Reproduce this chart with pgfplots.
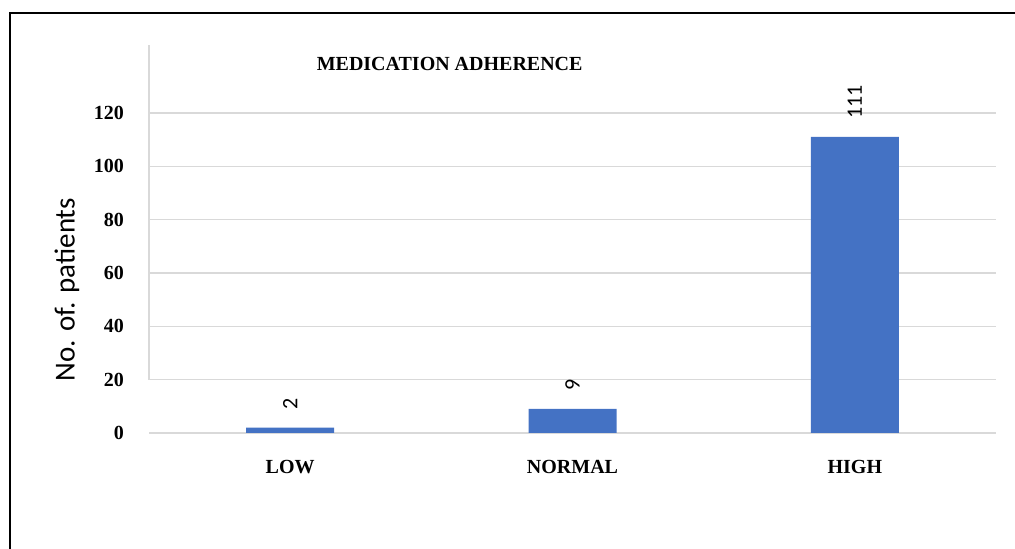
\documentclass[border=0pt]{standalone}
\usepackage{pgfplots}
\pgfplotsset{compat=1.18}
\usepackage{fontspec}
\setmainfont{Liberation Serif}
\newfontfamily\calibri{Carlito}
\definecolor{barblue}{RGB}{68,114,196}
\definecolor{gridgray}{RGB}{217,217,217}
\begin{document}
\begin{tikzpicture}
% page frame
\useasboundingbox (0,0) rectangle (507.5pt,274.5pt);
\draw[line width=1.3pt] (5pt,-2pt) -- (5pt,268pt) -- (510pt,268pt);
\begin{axis}[
  at={(74.5pt,58pt)}, anchor=south west,
  scale only axis,
  width=423.5pt, height=194pt,
  xmin=-0.5, xmax=2.5,
  ymin=0, ymax=145.5,
  xtick={0,1,2},
  xticklabels={LOW,NORMAL,HIGH},
  ytick={0,20,...,120},
  axis lines=left,
  axis line style={draw=none},
  major tick length=0pt,
  ymajorgrids,
  grid style={gridgray, line width=0.8pt},
  /pgf/number format/assume math mode=true,
  yticklabel style={font=\bfseries\fontsize{10}{12}\selectfont, anchor=east, xshift=-9pt},
  xticklabel style={font=\bfseries\fontsize{10}{12}\selectfont, anchor=center, yshift=-17pt},
  ylabel={No. of. patients},
  ylabel style={font=\calibri\fontsize{14.5}{16}\selectfont, at={(axis description cs:-0.097,0.369)}, anchor=center, rotate=0},
  title={MEDICATION ADHERENCE},
  title style={font=\bfseries\fontsize{10}{12}\selectfont, at={(rel axis cs:0.355,0.921)}, anchor=center},
  nodes near coords,
  every node near coord/.append style={font=\calibri\fontsize{11}{13}\selectfont, rotate=90, anchor=west, inner sep=0pt, inner xsep=9pt, text=black},
  clip=false,
]
\draw[gridgray, line width=0.8pt] (axis cs:-0.5,20) -- (axis cs:-0.5,145.5);
\addplot[ybar, bar width=44pt, fill=barblue, draw=none] coordinates {(0,2) (1,9) (2,111)};
\end{axis}
\end{tikzpicture}
\end{document}
